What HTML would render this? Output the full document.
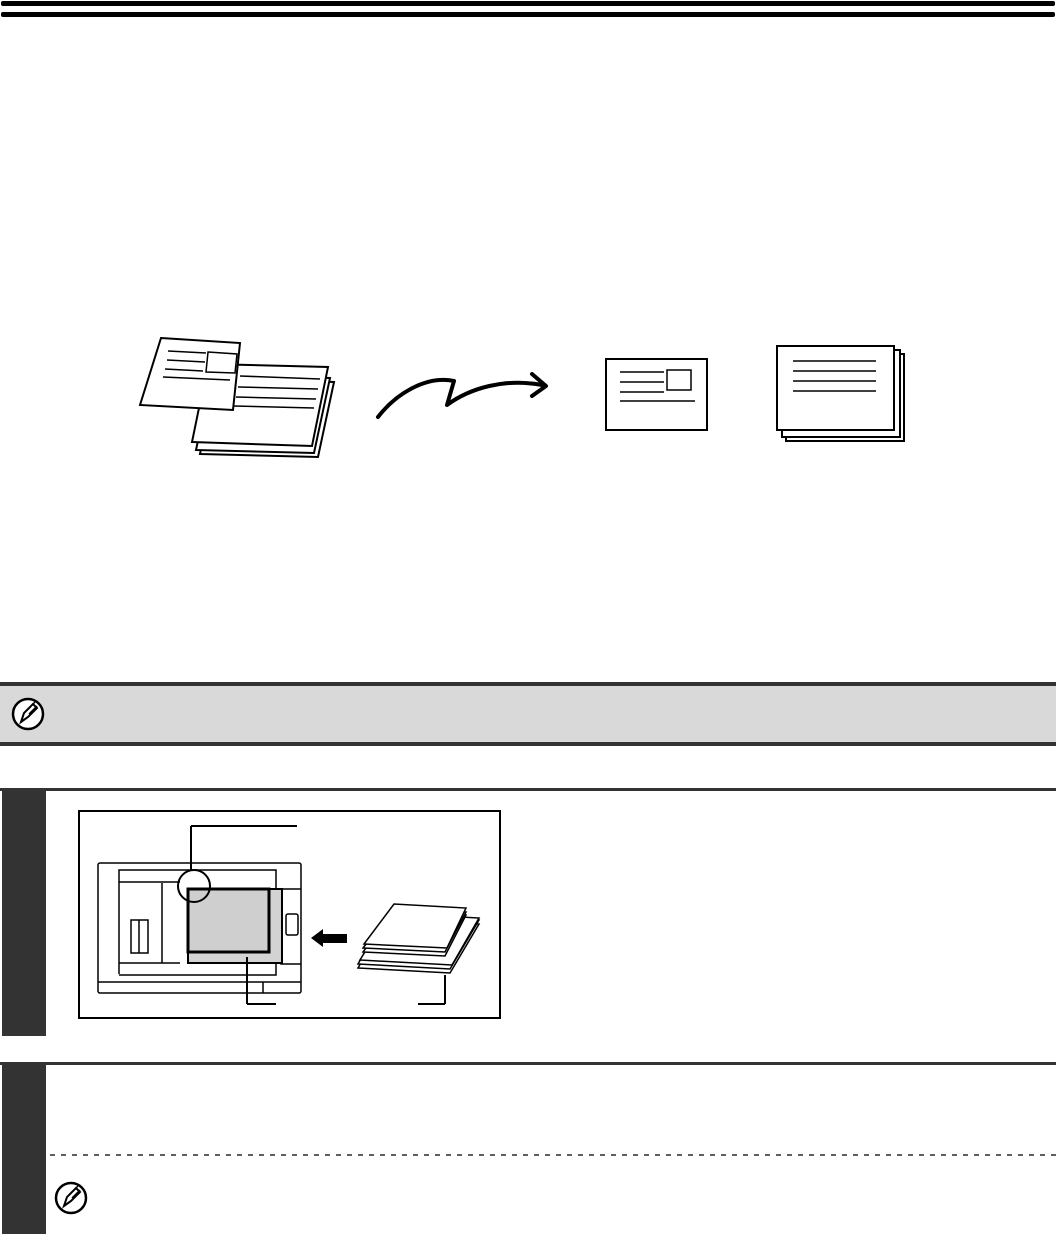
<!DOCTYPE html>
<html><head><meta charset="utf-8"><style>html,body{margin:0;padding:0;background:#fff}svg{display:block}</style></head>
<body>
<svg width="1056" height="1234" viewBox="0 0 1056 1234" xmlns="http://www.w3.org/2000/svg" fill="none" stroke="#000">
<rect x="1" y="1" width="1054" height="5" fill="#000" stroke="none" rx="2"/>
<rect x="1" y="12" width="1054" height="5" fill="#000" stroke="none" rx="2"/>

<!-- top diagram left -->
<g stroke-width="2" fill="#fff">
<polygon points="200,454 318,457 334,382 216,379"/>
<polygon points="196,450 314,453 330,378 212,375"/>
<polygon points="192,442 312,446 328,367 208,364"/>
</g>
<g stroke-width="1.5">
<line x1="240" y1="376" x2="320" y2="379"/>
<line x1="238" y1="387" x2="318" y2="389"/>
<line x1="236" y1="397" x2="316" y2="399"/>
<line x1="234" y1="406" x2="314" y2="408"/>
</g>
<polygon points="161,338 240,343 233,410 140,405" fill="#fff" stroke="#000" stroke-width="2"/>
<g stroke-width="1.5">
<line x1="168" y1="351" x2="206" y2="353"/>
<line x1="167" y1="360" x2="205" y2="362"/>
<line x1="165" y1="369" x2="203" y2="371"/>
<line x1="163" y1="377" x2="230" y2="380"/>
<polygon points="208,352 237,354 235,373 206,372" fill="#fff"/>
</g>

<!-- arrow -->
<path d="M378,417 C395,395 425,375 454,381 L447,405 C470,388 505,378 542,385" stroke-width="4" stroke-linecap="round" stroke-linejoin="round"/>
<path d="M532,374 L546,386 L532,396" stroke-width="4" stroke-linecap="round" stroke-linejoin="round"/>

<!-- single postcard -->
<rect x="606" y="359" width="101" height="71" stroke-width="2" fill="#fff"/>
<g stroke-width="1.5">
<line x1="620" y1="372" x2="664" y2="372"/>
<line x1="620" y1="382" x2="664" y2="382"/>
<line x1="620" y1="392" x2="664" y2="392"/>
<line x1="620" y1="401" x2="695" y2="401"/>
<rect x="667" y="370" width="24" height="20" fill="#fff"/>
</g>
<!-- stack -->
<g stroke-width="2" fill="#fff">
<rect x="786" y="354" width="118" height="87"/>
<rect x="782" y="350" width="118" height="87"/>
<rect x="777" y="346" width="117" height="84"/>
</g>
<g stroke-width="1.5">
<line x1="793" y1="361" x2="876" y2="361"/>
<line x1="793" y1="371" x2="876" y2="371"/>
<line x1="793" y1="381" x2="876" y2="381"/>
<line x1="793" y1="391" x2="876" y2="391"/>
</g>

<!-- note bar -->
<rect x="0" y="682" width="1056" height="4" fill="#333" stroke="none"/>
<rect x="0" y="686" width="1056" height="56" fill="#d9d9d9" stroke="none"/>
<rect x="0" y="742" width="1056" height="4" fill="#333" stroke="none"/>
<g transform="translate(28,714)">
<circle r="15" fill="#fff" stroke-width="2.5"/>
<path d="M-7,8 L-4,-1 L5,-10 L9,-6 L0,3 Z" fill="#fff" stroke-width="2"/>
<path d="M-2,-3 L7,-12 M1,0 L9,-8" stroke-width="1.5"/>
</g>

<!-- step 1 -->
<rect x="0" y="788" width="1056" height="3" fill="#333" stroke="none"/>
<rect x="2" y="788" width="44" height="248" fill="#333" stroke="none"/>
<rect x="79" y="811" width="421" height="207" stroke-width="2"/>
<g stroke-width="1.5">
<rect x="98" y="863" width="203" height="130" rx="2"/>
<line x1="98" y1="982" x2="301" y2="982"/>
<line x1="263" y1="982" x2="263" y2="993"/>
<path d="M119,974 V870 h157 v105 h-157"/>
<line x1="119" y1="882" x2="180" y2="882"/>
<line x1="162" y1="883" x2="162" y2="963"/>
<line x1="119" y1="963" x2="180" y2="963"/>
<rect x="131" y="920" width="17" height="33"/>
<line x1="139" y1="920" x2="139" y2="953"/>
<path d="M281,889 H301 M281,889 V964 H301"/>
<rect x="286" y="914" width="12" height="21" rx="2"/>
</g>
<rect x="188" y="889" width="94" height="74" fill="#d3d3d3" stroke-width="2"/>
<rect x="188" y="889" width="81" height="63" fill="#cfcfcf" stroke-width="3"/>
<circle cx="194" cy="886" r="16" fill="none" stroke-width="2"/>
<line x1="191" y1="826" x2="297" y2="826" stroke-width="2"/>
<line x1="191" y1="826" x2="191" y2="870" stroke-width="2"/>
<line x1="247" y1="957" x2="247" y2="1004" stroke-width="2"/>
<line x1="247" y1="1004" x2="276" y2="1004" stroke-width="2"/>
<line x1="445" y1="975" x2="445" y2="1004" stroke-width="2"/>
<line x1="418" y1="1004" x2="445" y2="1004" stroke-width="2"/>
<polygon points="311,938 323,929 323,934 347,934 347,943 323,943 323,947" fill="#000" stroke="none"/>
<g stroke-width="1.5" fill="#fff">
<polygon points="358,968 450,973 479,924 386,919"/>
<polygon points="358,964 450,969 479,920 386,915"/>
<polygon points="360,960 452,965 479,918 389,913"/>
<polygon points="363,952 445,956 466,915 394,911"/>
<polygon points="363,948 445,952 466,912 394,908"/>
<polygon points="364,944 447,948 466,908 394,904"/>
</g>

<!-- step 2 -->
<rect x="0" y="1062" width="1056" height="3" fill="#333" stroke="none"/>
<rect x="2" y="1062" width="44" height="172" fill="#333" stroke="none"/>
<line x1="50" y1="1155" x2="1056" y2="1155" stroke-width="1.2" stroke-dasharray="5,6"/>
<g transform="translate(71,1198)">
<circle r="15" fill="#fff" stroke-width="2.5"/>
<path d="M-7,8 L-4,-1 L5,-10 L9,-6 L0,3 Z" fill="#fff" stroke-width="2"/>
<path d="M-2,-3 L7,-12 M1,0 L9,-8" stroke-width="1.5"/>
</g>
</svg>
</body></html>
